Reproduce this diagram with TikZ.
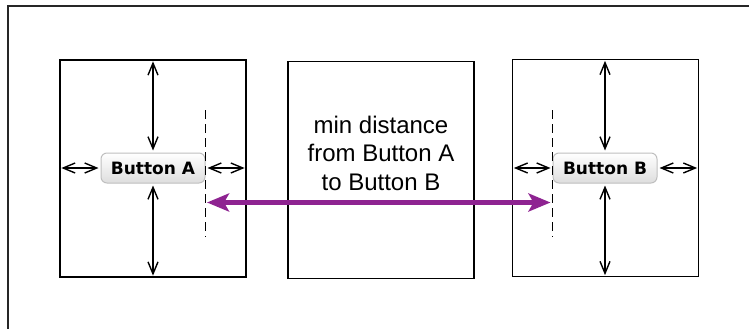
\documentclass[tikz,border=0pt]{standalone}
\usepackage{fontspec}
\setmainfont{Liberation Sans}
\newfontfamily\btnfont{DejaVu Sans}
\usepackage{tikz}
\usetikzlibrary{arrows.meta}
\definecolor{reachpurple}{RGB}{142,35,145}
\tikzset{
  pane/.style={draw, line width=1.3pt, minimum width=186pt, minimum height=217pt, inner sep=0pt},
  btn/.style={draw=black!25, line width=1pt, rounded corners=6pt, top color=white, bottom color=black!13,
              minimum width=104pt, minimum height=30pt, inner sep=0pt,
              font=\btnfont\bfseries\fontsize{17}{20}\selectfont},
  pad/.style={{Straight Barb[length=12pt,width=10pt]}-{Straight Barb[length=12pt,width=10pt]},
              line width=1.4pt, shorten >=2pt, shorten <=2pt},
  limit/.style={dash pattern=on 9pt off 5pt, line width=1.5pt},
  reach/.style={{Stealth[length=22pt,width=18pt,inset=5pt]}-{Stealth[length=22pt,width=18pt,inset=5pt]},
                line width=4.5pt, draw=reachpurple}
}

\begin{document}
\begin{tikzpicture}[x=1pt, y=-1pt]
  \useasboundingbox (0,0) rectangle (749,329);
  % outer frame, runs off the page on the right and bottom
  \draw[line width=1.5pt, black!85] (8,329) -- (8,6) -- (749,6);

  \node[pane] (boxA) at (153,168.5) {};
  \node[pane] (mid) at (381,170) {};
  \node[pane] (boxB) at (605.5,168) {};
  \node[btn] (btnA) at (153,168) {Button A};
  \node[btn] (btnB) at (605,168) {Button B};
  \node[align=center, font=\fontsize{24}{28.5}\selectfont] (txt) at (381,153)
    {min distance\\from Button A\\to Button B};

  % margins around each button
  \draw[pad] (boxA.north) -- (btnA.north);
  \draw[pad] (btnA.south) -- (boxA.south);
  \draw[pad] (boxA.west |- btnA) -- (btnA.west);
  \draw[pad] (btnA.east) -- (boxA.east |- btnA);
  \draw[pad] (boxB.north -| btnB) -- (btnB.north);
  \draw[pad] (btnB.south) -- (boxB.south -| btnB);
  \draw[pad] (boxB.west |- btnB) -- (btnB.west);
  \draw[pad] (btnB.east) -- (boxB.east |- btnB);

  % button edges and the distance between them
  \coordinate (limA1) at ([yshift=58pt]btnA.east);
  \coordinate (limA2) at ([yshift=-69pt]btnA.east);
  \coordinate (limB1) at ([yshift=58pt]btnB.west);
  \coordinate (limB2) at ([yshift=-69pt]btnB.west);
  \draw[limit] (limA1) -- (limA2);
  \draw[limit] (limB1) -- (limB2);
  \coordinate (reachA) at ([xshift=1.5pt, yshift=-34.5pt]btnA.east);
  \coordinate (reachB) at ([xshift=-2pt, yshift=-34.5pt]btnB.west);
  \draw[reach] (reachA) -- (reachB);
\end{tikzpicture}
\end{document}
